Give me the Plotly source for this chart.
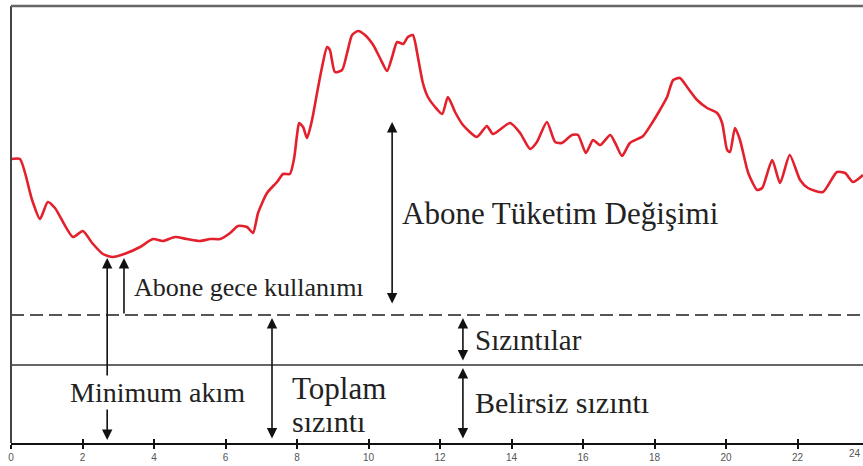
import plotly.graph_objects as go

# --- data (hours vs. flow, arbitrary units) ---
hours = [0.0, 0.25, 0.59, 0.81, 1.03, 1.23, 1.73, 2.01, 2.27, 2.57, 2.85, 3.24, 3.61, 3.97,
         4.25, 4.59, 4.92, 5.29, 5.57, 5.85, 6.13, 6.35, 6.60, 6.77, 6.91, 7.16, 7.44, 7.61,
         7.80, 7.92, 8.00, 8.06, 8.17, 8.28, 8.42, 8.56, 8.70, 8.84, 8.92, 9.06, 9.26, 9.40,
         9.54, 9.71, 9.90, 10.13, 10.32, 10.52, 10.66, 10.80, 10.97, 11.10, 11.24, 11.38,
         11.52, 11.66, 11.86, 12.06, 12.22, 12.42, 12.64, 13.03, 13.31, 13.48, 13.96, 14.24,
         14.52, 14.71, 14.99, 15.22, 15.41, 15.69, 15.86, 16.08, 16.28, 16.48, 16.76, 16.90,
         17.09, 17.31, 17.68, 17.93, 18.15, 18.35, 18.52, 18.71, 18.91, 19.19, 19.47, 19.75,
         19.89, 20.03, 20.11, 20.25, 20.39, 20.62, 20.87, 21.01, 21.29, 21.51, 21.78, 22.07,
         22.29, 22.71, 23.10, 23.33, 23.55, 23.83]
flow = [284, 284, 243, 224, 241, 235, 206, 212, 200, 189, 186, 190, 196, 204,
        202, 206, 204, 202, 204, 204, 210, 217, 216, 210, 230, 250, 261, 269,
        269, 285, 308, 320, 316, 305, 323, 350, 376, 396, 393, 371, 373, 390,
        408, 412, 408, 398, 385, 372, 386, 401, 399, 406, 408, 386,
        360, 346, 336, 329, 346, 331, 318, 306, 317, 309, 320, 310,
        294, 301, 321, 301, 300, 308, 308, 290, 303, 298, 308, 300,
        287, 300, 307, 320, 333, 346, 363, 365, 356, 343, 335, 330,
        320, 293, 291, 315, 303, 270, 253, 255, 283, 260, 288, 263,
        255, 251, 271, 270, 261, 268]

tick_hours = [0, 2, 4, 6, 8, 10, 12, 14, 16, 18, 20, 22, 24]
x_max = 23.83

min_flow_level = 185      # minimum night flow (curve minimum)
leak_level = 128          # dashed line: total leakage
background_level = 78     # solid line: background (unavoidable) leakage

# arrows: (x, y_tail, y_head, both_ends)
arrows = [
    (10.66, 138, 321, True),                   # Abone Tüketim Değişimi
    (2.69, 66, min_flow_level, False),         # Minimum akım (up)
    (2.69, 35, 3, False),                      # Minimum akım (down)
    (3.16, leak_level, min_flow_level, False), # Abone gece kullanımı
    (7.30, 3, 125, True),                      # Toplam sızıntı
    (12.64, 81, 125, True),                    # Sızıntılar
    (12.64, 3, 75, True),                      # Belirsiz sızıntı
]

# labels: (text, x, y, size, xanchor)
labels = [
    ("Abone Tüketim Değişimi", 10.88, 230, 31, "left"),
    ("Abone gece kullanımı", 3.38, 156, 26, "left"),
    ("Minimum akım", 4.11, 51, 28, "center"),
    ("Toplam", 7.80, 55, 31, "left"),
    ("sızıntı", 7.80, 22, 30, "left"),
    ("Sızıntılar", 12.92, 103, 29, "left"),
    ("Belirsiz sızıntı", 12.92, 41, 30, "left"),
]

fig = go.Figure()
fig.add_trace(go.Scatter(
    x=hours, y=flow, mode="lines",
    line=dict(color="#e3202b", width=2.6, shape="spline", smoothing=0.6),
    hoverinfo="skip", showlegend=False,
))
# invisible trace for crossing ticks axis
fig.add_trace(go.Scatter(x=[0], y=[0], xaxis="x2", mode="markers",
                         marker=dict(opacity=0), showlegend=False, hoverinfo="skip"))

shapes = [
    dict(type="line", xref="paper", yref="y", x0=0, x1=1, y0=leak_level, y1=leak_level,
         line=dict(color="#555555", width=2, dash="13px,6px")),
    dict(type="line", xref="paper", yref="y", x0=0, x1=1, y0=background_level, y1=background_level,
         line=dict(color="#333333", width=1.5)),
    dict(type="line", xref="paper", yref="paper", x0=0, x1=0, y0=0, y1=1,
         line=dict(color="#444444", width=2)),
    dict(type="line", xref="paper", yref="paper", x0=0, x1=1, y0=1, y1=1,
         line=dict(color="#666666", width=2.5)),
]

annotations = []
for x, y0, y1, both in arrows:
    annotations.append(dict(
        x=x, y=y1, ax=x, ay=y0, xref="x", yref="y", axref="x", ayref="y",
        text="", showarrow=True, arrowhead=2, arrowsize=1.3, arrowwidth=1.6,
        arrowcolor="#111111", arrowside="end+start" if both else "end",
        startarrowhead=2, startarrowsize=1.3, standoff=0, startstandoff=0,
    ))
for text, x, y, size, anchor in labels:
    annotations.append(dict(
        x=x, y=y, xref="x", yref="y", text=text, showarrow=False,
        xanchor=anchor, yanchor="middle",
        font=dict(family="Liberation Serif, Times New Roman, serif", size=size, color="#222222"),
    ))
# the last tick label, at the right edge
annotations.append(dict(
    x=1, y=0, xref="paper", yref="paper", yshift=-3,
    text=str(tick_hours[-1]), showarrow=False, xanchor="right", yanchor="top",
    font=dict(family="Liberation Sans, Arial, sans-serif", size=10, color="#555555"),
))

fig.update_layout(
    width=863, height=466,
    margin=dict(l=11, r=0, t=6, b=23),
    paper_bgcolor="white", plot_bgcolor="white",
    shapes=shapes, annotations=annotations,
    xaxis=dict(range=[0, x_max], tickvals=tick_hours[:-1], ticktext=[str(t) for t in tick_hours[:-1]],
               ticks="outside", ticklen=4, tickwidth=1.5, tickcolor="#111111",
               showline=True, linecolor="#111111", linewidth=2,
               showgrid=False, zeroline=False,
               tickfont=dict(family="Liberation Sans, Arial, sans-serif", size=10, color="#555555")),
    xaxis2=dict(range=[0, x_max], overlaying="x", anchor="y", side="bottom",
                tickvals=tick_hours[:-1], ticks="inside", ticklen=4, tickwidth=1.5,
                tickcolor="#111111", showticklabels=False, showgrid=False, zeroline=False,
                showline=False),
    yaxis=dict(range=[0, 437], visible=False, fixedrange=True),
    showlegend=False,
)

fig.write_html("out.html", config={"displayModeBar": False},
               post_script="document.body.style.margin='0';document.body.style.overflow='hidden';")
